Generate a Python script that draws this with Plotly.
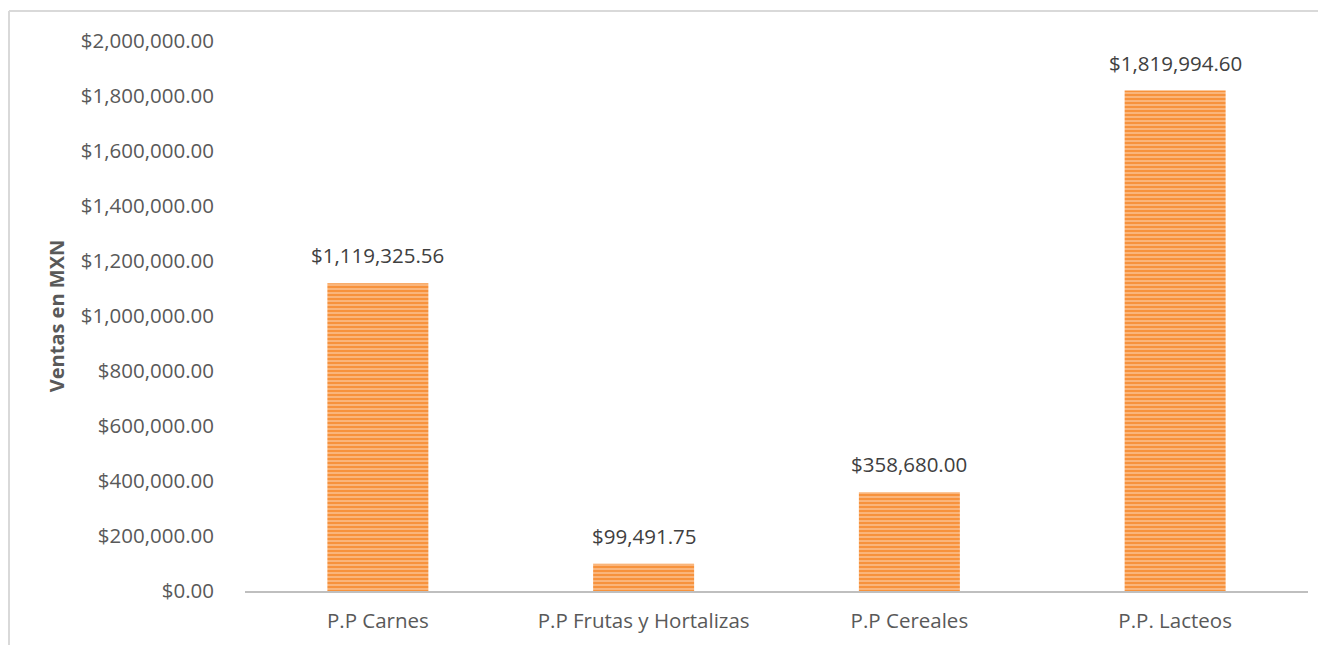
import plotly.graph_objects as go

categories = ["P.P Carnes", "P.P Frutas y Hortalizas", "P.P Cereales", "P.P. Lacteos"]
ventas = [1119325.56, 99491.75, 358680.00, 1819994.60]
tick_vals = [0, 200000, 400000, 600000, 800000, 1000000, 1200000, 1400000, 1600000, 1800000, 2000000]
tick_text = ["${:,.2f}".format(v) for v in tick_vals]
labels = ["${:,.2f}".format(v) for v in ventas]

FONT = "Open Sans"
FS = 20.5

fig = go.Figure()
fig.add_trace(go.Bar(
    x=categories,
    y=ventas,
    marker=dict(
        color="#F7963F",
        line=dict(width=0),
        pattern=dict(shape="-", fgcolor="#F7923C", bgcolor="#FCCDA4", size=4, solidity=0.7,
                     fgopacity=1),
    ),
    width=0.38,
    hoverinfo="skip",
))

for c, v, t in zip(categories, ventas, labels):
    fig.add_annotation(x=c, y=v, text=t, showarrow=False, yanchor="bottom", yshift=12,
                       font=dict(family=FONT, size=FS, color="#404040"))

fig.update_layout(
    width=1326, height=645,
    margin=dict(l=237, r=26, t=33, b=62),
    paper_bgcolor="white", plot_bgcolor="white",
    showlegend=False,
    font=dict(family=FONT, color="#595959"),
    xaxis=dict(
        showline=True, linecolor="#BFBFBF", linewidth=2,
        showgrid=False, ticks="", tickfont=dict(family=FONT, size=FS, color="#595959"),
        ticklabelstandoff=10,
    ),
    yaxis=dict(
        range=[0, 2000000], tickvals=tick_vals, ticktext=tick_text,
        showgrid=False, zeroline=False, showline=False, ticks="",
        tickfont=dict(family=FONT, size=FS, color="#595959"),
        ticklabelstandoff=30,
        title=dict(text="<b>Ventas en MXN</b>", font=dict(family=FONT, size=20, color="#595959"), standoff=10),
    ),
    shapes=[
        dict(type="line", xref="paper", yref="paper", x0=(9 - 245) / 1063, x1=(1340 - 245) / 1063,
             y0=1 + (41 - 11) / 550, y1=1 + (41 - 11) / 550, line=dict(color="#D9D9D9", width=2)),
        dict(type="line", xref="paper", yref="paper", x0=(9 - 245) / 1063, x1=(9 - 245) / 1063,
             y0=1 + (41 - 11) / 550, y1=(591 - 660) / 550, line=dict(color="#D9D9D9", width=2)),
    ],
)

fig.write_html("out.html")
